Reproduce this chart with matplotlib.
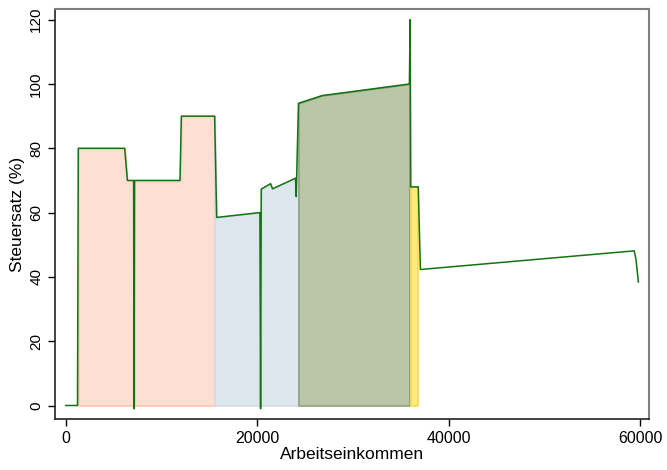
import numpy as np
import matplotlib
matplotlib.use("Agg")
import matplotlib.pyplot as plt

plt.rcParams['font.family'] = ['Liberation Sans', 'DejaVu Sans']

# Arbeitseinkommen (x) and Steuersatz in % (y)
income = np.array([0, 1220, 1300, 6150, 6430, 7080, 7130, 7180, 11930, 12070,
                   15550, 15760, 20280, 20350, 20420, 21390, 21600, 24000,
                   24070, 24310, 26780, 35900, 35980, 36050, 36830, 37050,
                   59400, 59590, 59830])
rate = np.array([0, 0, 80, 80, 70, 70, -1, 70, 70, 90,
                 90, 58.5, 60, -1, 67.3, 69, 67.4, 70.7,
                 65, 94, 96.4, 100, 120, 68, 68, 42.3,
                 48.1, 45.2, 38.4])

# shaded income ranges
region_start = [1300, 15550, 24310, 36050]
region_end = [15550, 24310, 35900, 36830]
region_face = ['#FFDFD3', '#DEE6ED', '#B9C6A7', '#FFE985']
region_edge = ['#FFC4B0', '#D2DCE6', '#8FA07A', '#FFD84A']

xticks = [0, 20000, 40000, 60000]
yticks = [0, 20, 40, 60, 80, 100, 120]

fig = plt.figure(figsize=(6.67, 4.70), dpi=100)
ax = fig.add_axes([0.0825, 0.1085, 0.8905, 0.8715])

for a, b, fc, ec in zip(region_start, region_end, region_face, region_edge):
    m = (income >= a) & (income <= b)
    ax.fill_between(income[m], np.clip(rate[m], 0, None), 0,
                    facecolor=fc, edgecolor=ec, linewidth=1.2, zorder=1)

ax.plot(income, rate, color='#137313', linewidth=1.1, zorder=3)

ax.set_xlim(-1130, 60940)
ax.set_ylim(-4.2, 123.2)
ax.set_xticks(xticks)
ax.set_xticklabels([str(t) for t in xticks], fontsize=11.5)
ax.set_yticks(yticks)
ax.set_yticklabels([str(t) for t in yticks], fontsize=11, rotation=90, va='center')
ax.set_xlabel('Arbeitseinkommen', fontsize=12.5, labelpad=1)
ax.set_ylabel('Steuersatz (%)', fontsize=12.5, labelpad=3)
ax.tick_params(direction='out', length=5, width=1, colors='black')

for s in ['left', 'bottom']:
    ax.spines[s].set_color('#222222')
    ax.spines[s].set_linewidth(1.2)
for s in ['top', 'right']:
    ax.spines[s].set_color('#7f7f7f')
    ax.spines[s].set_linewidth(1.5)

fig.savefig('out.png', dpi=100)
